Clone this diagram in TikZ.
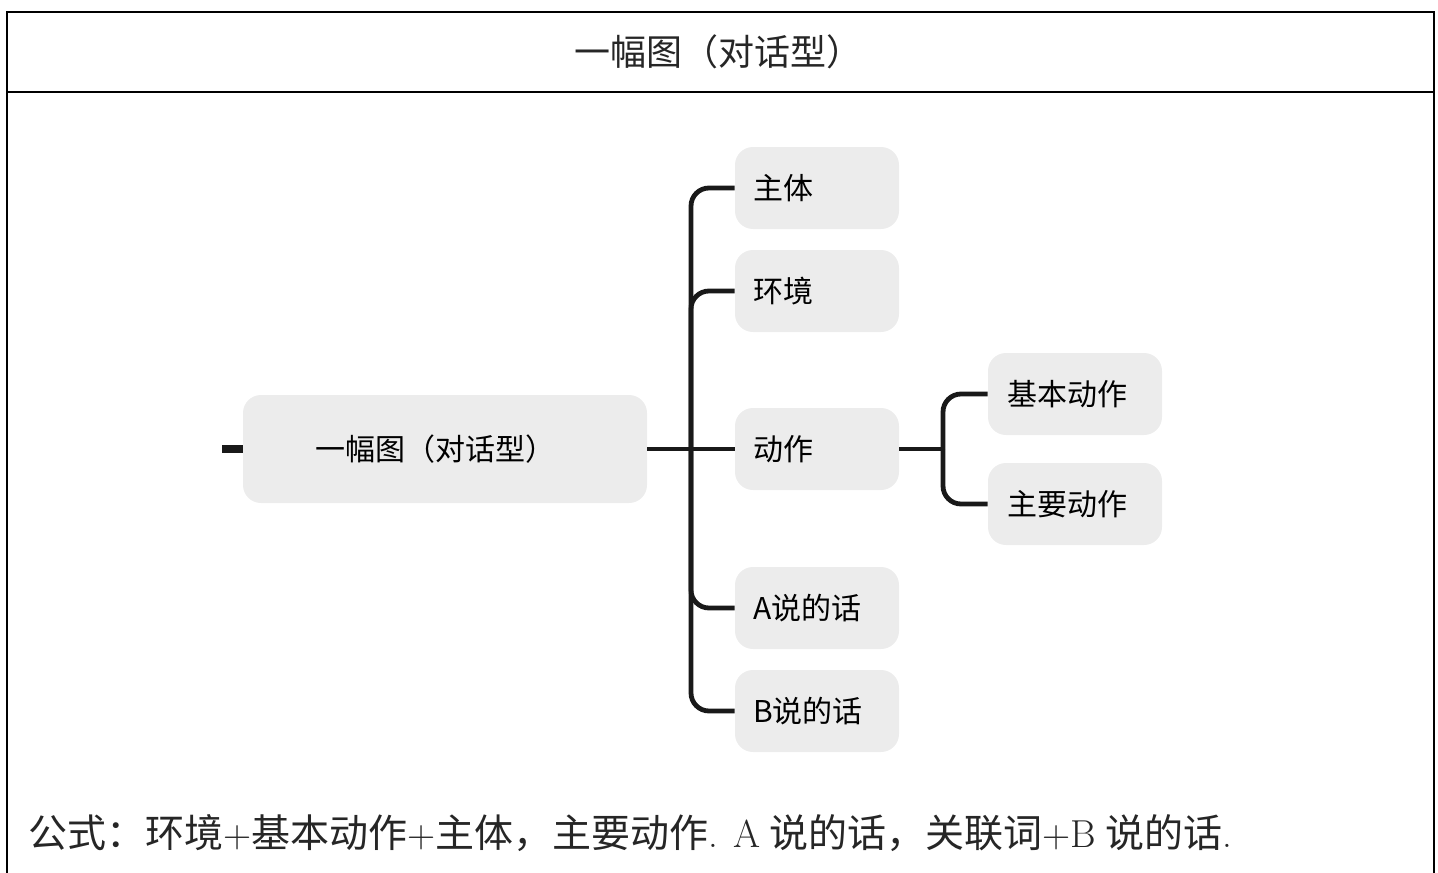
\documentclass[tikz,border=0pt]{standalone}
\usepackage{fontspec}
\newfontfamily\cjk{Noto Sans CJK SC}
\usetikzlibrary{positioning}

\tikzset{topic/.style = {fill=gray!15, rounded corners=9pt, inner sep=0pt,
                         minimum height=41pt, text width=#1, align=left,
                         font=\cjk\fontsize{15}{15}\selectfont},
         topic/.default=64pt,
         branch/.style = {line width=2.4pt, rounded corners=9pt, draw=black!90}
        }

\begin{document}
\begin{tikzpicture}[x=0.5pt,y=-0.5pt]
  \useasboundingbox (0,0) rectangle (1438,872);
  % cadre et titre
  \draw[line width=0.6pt] (7,880) -- (7,12) -- (1434,12) -- (1434,880);
  \draw[line width=0.6pt] (7,92) -- (1434,92);
  \node[font=\cjk\fontsize{18}{18}\selectfont, text=black!85] (titre) at (718,52) {一幅图（对话型）};
  % carte
  \node[topic=182pt, minimum width=202pt, minimum height=54pt, align=center] (racine) at (445,449) {\hspace*{-10pt}一幅图（对话型）};
  \node[topic, minimum width=82pt] (sujet) at (817,188) {主体};
  \node[topic, minimum width=82pt] (cadre) at (817,291) {环境};
  \node[topic, minimum width=82pt] (action) at (817,449) {动作};
  \node[topic, minimum width=82pt] (parolea) at (817,608) {A说的话};
  \node[topic, minimum width=82pt] (paroleb) at (817,711) {B说的话};
  \node[topic=68pt, minimum width=87pt] (base) at (1075,394) {基本动作};
  \node[topic=68pt, minimum width=87pt] (princ) at (1075,504) {主要动作};
  \coordinate (tige) at (222,449);
  \coordinate (nd1) at (691,449);
  \coordinate (nd2) at (943,449);
  \draw[line width=4pt, draw=black!90] (tige) -- (racine.west);
  \draw[branch] (racine.east) -- (action.west);
  \foreach \c in {sujet,cadre,parolea,paroleb}
    \draw[branch] (nd1) |- (\c.west);
  \draw[branch] (action.east) -- (nd2);
  \foreach \c in {base,princ}
    \draw[branch] (nd2) |- (\c.west);
  % formule
  \node[anchor=west, font=\cjk\fontsize{19.5}{19.5}\selectfont, text=black!85, inner sep=0pt] (formule) at (28,833)
    {公式：环境{\rmfamily+}基本动作{\rmfamily+}主体，主要动作{\rmfamily. A} 说的话，关联词{\rmfamily+B} 说的话{\rmfamily.}};
\end{tikzpicture}
\end{document}
